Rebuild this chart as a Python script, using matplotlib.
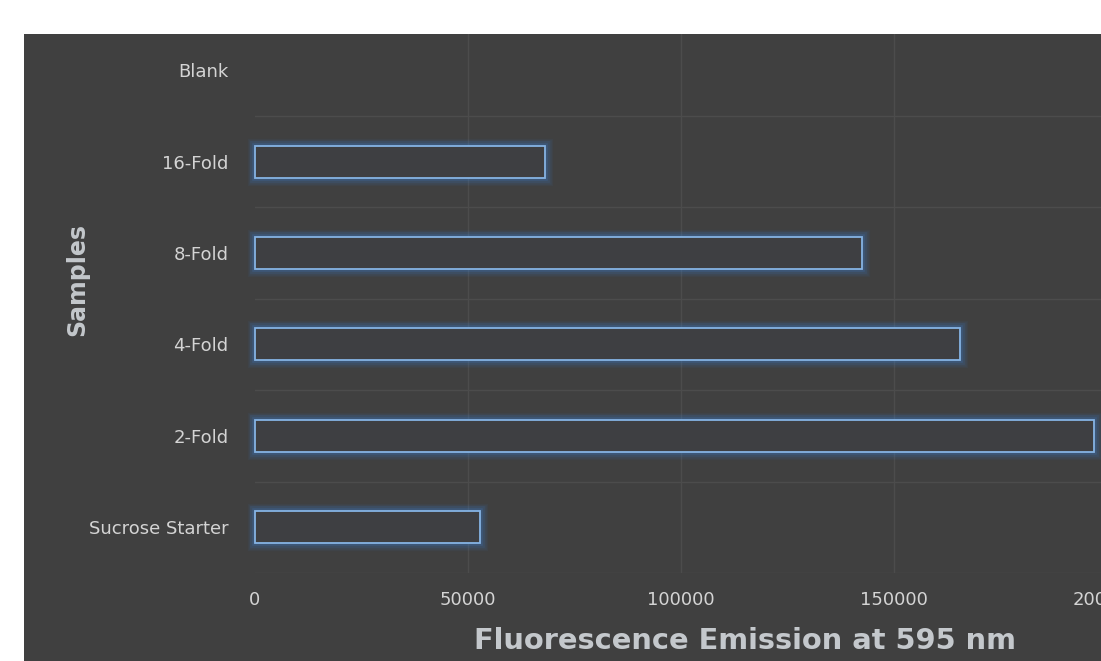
import matplotlib.pyplot as plt
from matplotlib.patches import Rectangle

SAMPLES = ["Sucrose Starter", "2-Fold", "4-Fold", "8-Fold", "16-Fold", "Blank"]
EMISSION = [52800, 197000, 165500, 142500, 68000, 0]
X_TICKS = [0, 50000, 100000, 150000, 200000]

BG_DARK = "#404040"
GRID_COLOR = "#4c4c4c"
TEXT_COLOR = "#d4d4d4"
LABEL_COLOR = "#c4c8cc"
GLOW_COLOR = "#3d7fcf"
EDGE_COLOR = "#86b4e4"

W, H = 1101, 661

figure = plt.figure(figsize=(W / 100, H / 100), dpi=100)
figure.patch.set_facecolor("white")
figure.patches.append(Rectangle((24 / W, 0), 1 - 24 / W, (H - 34) / H,
                                transform=figure.transFigure, facecolor=BG_DARK,
                                edgecolor="none", zorder=-10))

axes = figure.add_axes([255 / W, (H - 573) / H, (1107 - 255) / W, (573 - 34) / H])
axes.set_facecolor(BG_DARK)
positions = list(range(len(SAMPLES)))

# soft glow around the hollow bars
bar_groups = []
for width, alpha in [(11, 0.06), (9, 0.09), (7, 0.12), (4, 0.2)]:
    bar_groups.append(axes.barh(positions, EMISSION, height=0.35, fill=False,
                                edgecolor=GLOW_COLOR, linewidth=width, alpha=alpha, zorder=3))
bar_groups.append(axes.barh(positions, EMISSION, height=0.35, facecolor="#3e3f42",
                            edgecolor=EDGE_COLOR, linewidth=1.3, zorder=4))
for group in bar_groups:
    for patch, value in zip(group.patches, EMISSION):
        patch.set_clip_on(False)
        if value == 0:
            patch.set_visible(False)

axes.set_xlim(0, 200000)
axes.set_ylim(-0.5, 5.397)
axes.set_xticks(X_TICKS)
axes.set_xticklabels([str(t) for t in X_TICKS])
axes.set_yticks(positions)
axes.set_yticklabels(SAMPLES)

for y in [p + 0.5 for p in positions[:-1]] + [-0.5]:
    axes.axhline(y, color=GRID_COLOR, linewidth=1, zorder=1)
for x in X_TICKS[1:]:
    axes.axvline(x, color=GRID_COLOR, linewidth=1, zorder=1)

for spine in axes.spines.values():
    spine.set_visible(False)
axes.tick_params(axis="both", length=0, colors=TEXT_COLOR, labelsize=13)
axes.tick_params(axis="y", pad=19)
axes.tick_params(axis="x", pad=13)

figure.text(745 / W, (H - 641) / H, "Fluorescence Emission at 595 nm",
            ha="center", va="center", fontsize=20.8, fontweight="bold", color=LABEL_COLOR)
figure.text(77 / W, (H - 280) / H, "Samples", ha="center", va="center",
            rotation=90, fontsize=17, fontweight="bold", color=LABEL_COLOR)

figure.savefig("out.png", dpi=100)
